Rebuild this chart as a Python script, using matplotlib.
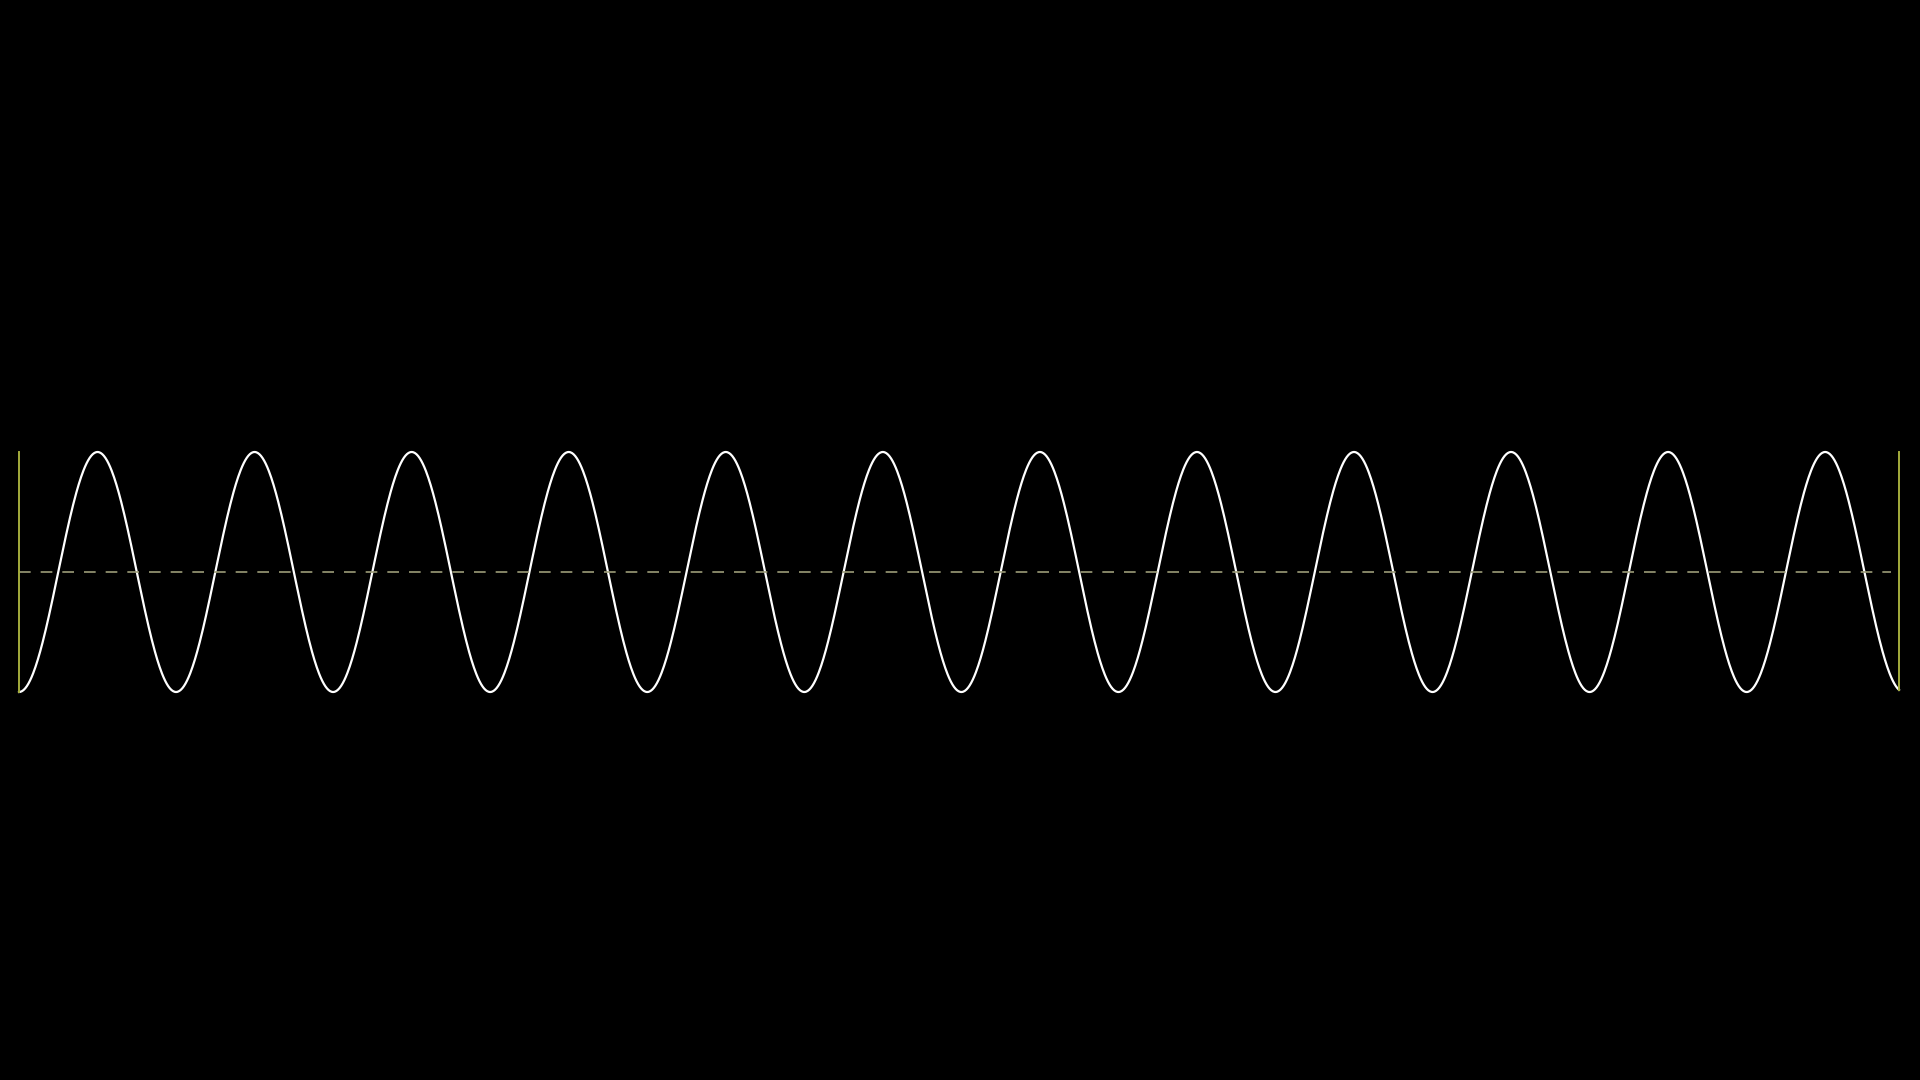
import numpy as np
import matplotlib
matplotlib.use("Agg")
from matplotlib import pyplot as plt

# wave: starts at a trough, ~12 cycles across
n_cycles = 11.97
amplitude = 1.0
baseline = 0.0
samples_per_cycle = 200

t = np.linspace(0, n_cycles, int(n_cycles * samples_per_cycle))
wave = baseline - amplitude * np.cos(2 * np.pi * t)

fig = plt.figure(figsize=(19.2, 10.8), dpi=100, facecolor="black")
# plot box from x=19px..1899px, y=+1 at 452px, -1 at 692px
ax = fig.add_axes([19 / 1920, (1080 - 692) / 1080, 1880 / 1920, 240 / 1080])
ax.set_facecolor("black")
ax.set_xlim(0, n_cycles)
ax.set_ylim(-1, 1)
ax.axis("off")

ax.plot(t, wave, color="white", lw=1.6, clip_on=False)

# centre line
ax.plot([0, n_cycles - 0.05], [baseline, baseline], color="#9c9c78", lw=1.2,
        ls=(0, (7, 6)), clip_on=False)

# edge markers
ax.plot([0, 0], [wave[0], 1.0], color="#a4ac3c", lw=1.4, clip_on=False)
ax.plot([n_cycles, n_cycles], [wave[-1], 1.0], color="#a4ac3c", lw=1.4, clip_on=False)

fig.savefig("out.png", dpi=100, facecolor="black")
